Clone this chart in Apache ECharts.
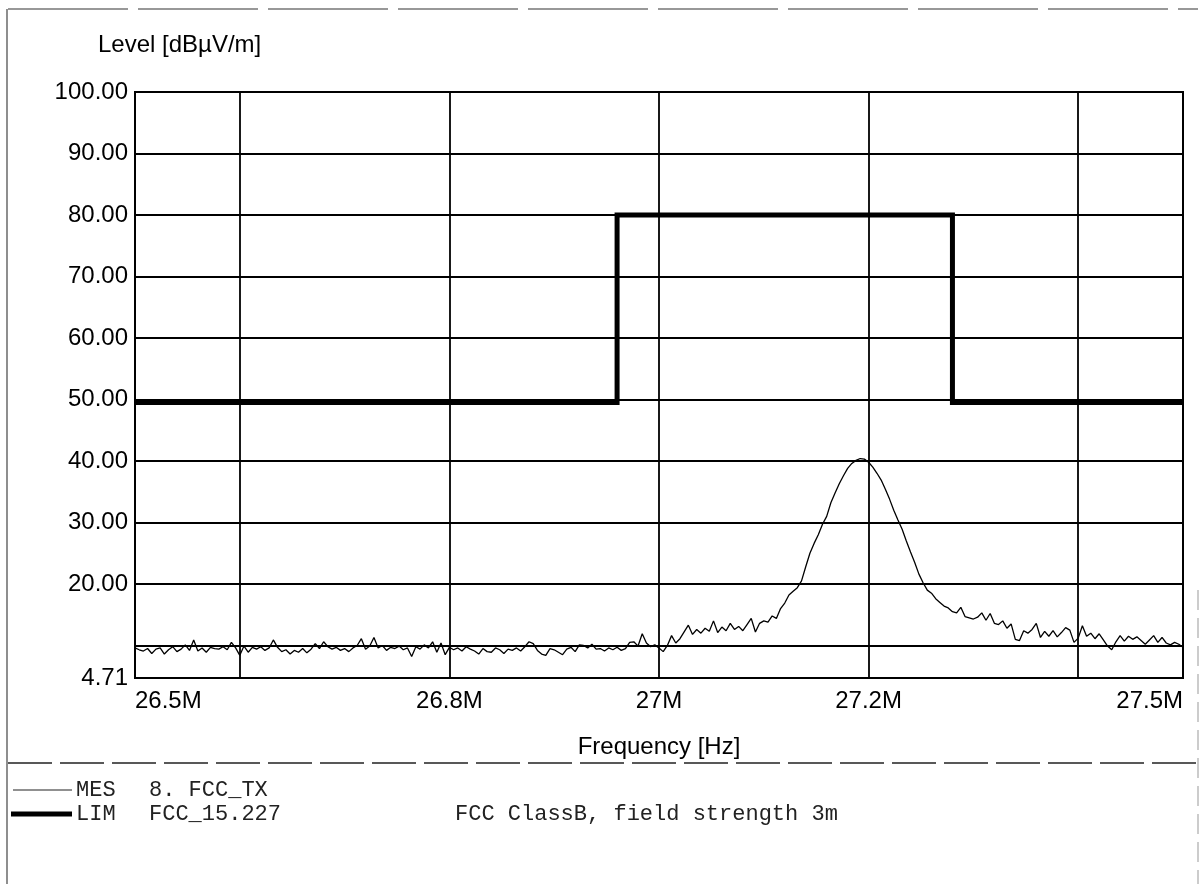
<!DOCTYPE html>
<html>
<head>
<meta charset="utf-8">
<title>Level vs Frequency</title>
<script src="https://cdn.jsdelivr.net/npm/echarts@6/dist/echarts.min.js"></script>
<style>
  html, body { margin: 0; padding: 0; background: #fff; }
  #chart { width: 1201px; height: 884px; }
</style>
</head>
<body>
<div id="chart"></div>
<script>
// sweep: 26.5 MHz .. 27.5 MHz, one reading every 4 kHz
const sweepStart = 26.5
const sweepStep = 0.004

// MES 8. FCC_TX, level in dBµV/m
const mesLevel = [
  9.6, 9.3, 9.1, 9.5, 8.7, 9.4, 9.6, 8.6, 9.3, 9.8,
  9.0, 9.4, 10.1, 9.2, 10.9, 9.1, 9.6, 8.9, 9.7, 9.5,
  9.4, 9.8, 9.3, 10.5, 9.6, 8.4, 9.9, 8.9, 9.7, 9.4,
  9.8, 9.2, 9.6, 10.9, 9.7, 9.0, 9.3, 8.6, 9.2, 8.9,
  9.5, 8.8, 9.4, 10.3, 9.5, 10.6, 9.8, 9.4, 9.7, 9.2,
  9.5, 9.0, 9.6, 10.0, 11.1, 9.4, 9.9, 11.3, 9.6, 10.0,
  9.2, 9.7, 9.5, 9.9, 9.3, 9.6, 8.2, 9.8, 9.4, 10.1,
  9.6, 10.6, 8.9, 10.4, 8.5, 9.7, 9.3, 9.6, 9.1, 9.8,
  9.4, 9.1, 8.6, 9.5, 9.0, 8.9, 9.6, 9.3, 8.7, 9.4,
  9.2, 9.6, 9.1, 9.8, 10.6, 10.3, 9.2, 8.6, 8.4, 9.5,
  9.3, 8.9, 8.5, 9.4, 9.7, 9.0, 10.1, 10.0, 9.6, 10.2,
  9.4, 9.5, 9.1, 9.6, 9.3, 9.7, 9.2, 9.5, 10.5, 10.6,
  9.9, 11.9, 10.4, 9.8, 10.1, 9.6, 9.0, 10.0, 11.6, 10.4,
  11.1, 12.2, 13.3, 11.8, 12.6, 12.0, 12.8, 12.3, 14.0, 12.1,
  13.0, 12.4, 13.6, 12.6, 13.1, 12.4, 13.4, 14.4, 12.2, 13.6,
  14.0, 13.8, 14.8, 14.4, 16.0, 16.9, 18.2, 18.8, 19.4, 20.5,
  22.8, 25.0, 26.6, 28.0, 29.7, 31.0, 33.2, 34.8, 36.3, 37.6,
  38.8, 39.6, 40.1, 40.4, 40.3, 39.8, 39.0, 38.0, 36.9, 35.4,
  33.8, 32.0, 30.4, 28.9, 27.0, 25.2, 23.5, 21.6, 20.2, 19.0,
  18.5, 17.6, 17.0, 16.4, 16.1, 15.5, 15.3, 16.2, 14.7, 14.5,
  14.3, 14.6, 15.3, 14.1, 15.2, 13.6, 13.4, 14.0, 12.8, 13.5,
  11.0, 10.8, 12.4, 12.0, 12.6, 13.6, 11.3, 12.3, 11.5, 12.4,
  11.4, 12.1, 12.9, 12.5, 10.5, 11.2, 13.2, 11.5, 12.0, 11.1,
  11.9, 10.9, 9.9, 9.3, 10.6, 11.6, 10.7, 11.5, 11.0, 11.4,
  10.8, 10.2, 10.9, 11.6, 10.5, 11.3, 10.4, 10.1, 10.5, 10.2,
  9.7
]

// LIM FCC_15.227
const limFreq = [26.5, 26.96, 26.96, 27.28, 27.28, 27.5]
const limLevel = [49.5, 49.5, 80, 80, 49.5, 49.5]

// axis ticks
const xGridValues = [26.6, 26.8, 27.0, 27.2, 27.4]
const xLabelValues = [26.5, 26.8, 27.0, 27.2, 27.5]
const yGridValues = [10, 20, 30, 40, 50, 60, 70, 80, 90, 100]
const yLabelValues = [4.71, 20, 30, 40, 50, 60, 70, 80, 90, 100]
const yMin = 4.71
const yMax = 100

const mesData = mesLevel.map((v, i) => [+(sweepStart + i * sweepStep).toFixed(3), v])
const limData = limFreq.map((f, i) => [f, limLevel[i]])

const sansFont = '"Liberation Sans", Arial, sans-serif'
const monoFont = '"Courier New", "Liberation Mono", monospace'

const chart = echarts.init(document.getElementById('chart'))

chart.setOption({
  animation: false,
  backgroundColor: '#fff',
  grid: {
    left: 135,
    right: 18,
    top: 92,
    bottom: 206,
    show: true,
    borderColor: '#000',
    borderWidth: 2
  },
  xAxis: {
    type: 'value',
    min: 26.5,
    max: 27.5,
    name: 'Frequency [Hz]',
    nameLocation: 'middle',
    nameGap: 57,
    nameTextStyle: { color: '#000', fontSize: 24, fontFamily: sansFont },
    axisLine: { show: false },
    axisTick: { show: false, customValues: xGridValues },
    splitLine: { show: true, lineStyle: { color: '#000', width: 1.8 } },
    axisLabel: {
      customValues: xLabelValues,
      color: '#000',
      fontSize: 24,
      fontFamily: sansFont,
      margin: 11,
      alignMinLabel: 'left',
      alignMaxLabel: 'right',
      formatter: (v) => v + 'M'
    }
  },
  yAxis: {
    type: 'value',
    min: yMin,
    max: yMax,
    axisLine: { show: false },
    axisTick: { show: false, customValues: yGridValues },
    splitLine: { show: true, lineStyle: { color: '#000', width: 1.8 } },
    axisLabel: {
      customValues: yLabelValues,
      color: '#000',
      fontSize: 24,
      fontFamily: sansFont,
      margin: 7,
      formatter: (v) => v.toFixed(2)
    }
  },
  series: [
    {
      name: 'MES',
      type: 'line',
      data: mesData,
      showSymbol: false,
      lineStyle: { color: '#000', width: 1.3 },
      z: 3
    },
    {
      name: 'LIM',
      type: 'line',
      data: limData,
      showSymbol: false,
      lineStyle: { color: '#000', width: 5, join: 'miter' },
      z: 4
    }
  ],
  graphic: [
    // outer frame of the printout
    { type: 'line', shape: { x1: 8, y1: 9, x2: 1198, y2: 9 }, style: { stroke: '#333', lineWidth: 1.2, lineDash: [120, 10] } },
    { type: 'line', shape: { x1: 7, y1: 9, x2: 7, y2: 884 }, style: { stroke: '#444', lineWidth: 1.2 } },
    { type: 'line', shape: { x1: 1198, y1: 590, x2: 1198, y2: 884 }, style: { stroke: '#999', lineWidth: 1, lineDash: [20, 8] } },
    { type: 'line', shape: { x1: 8, y1: 763, x2: 1200, y2: 763 }, style: { stroke: '#222', lineWidth: 1.4, lineDash: [44, 8] } },
    // y axis title
    {
      type: 'text', x: 98, y: 45,
      style: { text: 'Level [dBµV/m]', fill: '#000', font: '24px ' + sansFont, textVerticalAlign: 'middle' }
    },
    // trace legend
    { type: 'line', shape: { x1: 13, y1: 790, x2: 72, y2: 790 }, style: { stroke: '#222', lineWidth: 1.2 } },
    { type: 'line', shape: { x1: 11, y1: 814, x2: 72, y2: 814 }, style: { stroke: '#000', lineWidth: 5 } },
    { type: 'text', x: 76, y: 790, style: { text: 'MES', fill: '#222', font: '22px ' + monoFont, textVerticalAlign: 'middle' } },
    { type: 'text', x: 149, y: 790, style: { text: '8. FCC_TX', fill: '#222', font: '22px ' + monoFont, textVerticalAlign: 'middle' } },
    { type: 'text', x: 76, y: 814, style: { text: 'LIM', fill: '#222', font: '22px ' + monoFont, textVerticalAlign: 'middle' } },
    { type: 'text', x: 149, y: 814, style: { text: 'FCC_15.227', fill: '#222', font: '22px ' + monoFont, textVerticalAlign: 'middle' } },
    { type: 'text', x: 455, y: 814, style: { text: 'FCC ClassB, field strength 3m', fill: '#222', font: '22px ' + monoFont, textVerticalAlign: 'middle' } }
  ]
})
</script>
</body>
</html>
